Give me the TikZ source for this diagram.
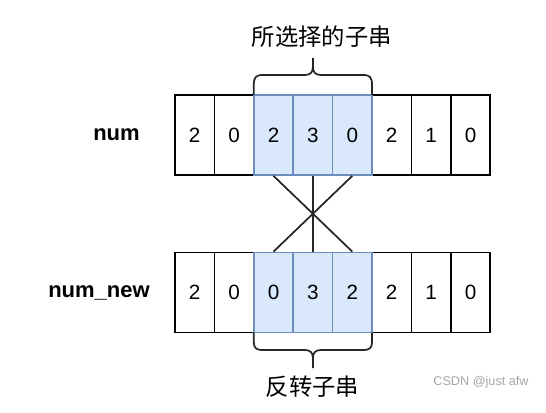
\documentclass[tikz,border=0pt]{standalone}
\usepackage{fontspec}
\setmainfont{Liberation Sans}
\newfontfamily\cjkfont{Noto Sans CJK SC}
\usepackage{tikz}
\usetikzlibrary{positioning}
\definecolor{softblue}{HTML}{DAE8FC}
\definecolor{edgeblue}{HTML}{6C8EBF}
\definecolor{markgrey}{RGB}{165,165,165}
\tikzset{
    cell/.style={
        draw,
        line width=1.3pt,
        minimum width=29.55pt,
        minimum height=60pt,
        inner sep=0pt,
        font=\fontsize{15.5}{18}\selectfont
    },
    pickcell/.style={
        cell,
        draw=edgeblue,
        fill=softblue
    },
    rowlabel/.style={
        anchor=east,
        inner sep=0pt,
        font=\fontsize{16.5}{20}\selectfont\bfseries
    },
    note/.style={
        inner sep=0pt,
        font=\cjkfont\fontsize{17.5}{20}\selectfont
    },
    cross/.style={line width=1.3pt, draw=black!85},
    curly/.style={line width=1.3pt, draw=black!85}
}

\begin{document}
\begin{tikzpicture}[x=0.75pt,y=-0.75pt]
\useasboundingbox (0,0) rectangle (546,413);

% Row labels
\node[rowlabel] (numlabel) at (140,135) {num};
\node[rowlabel] (newlabel) at (150,293) {num\_new};

% ------------------------------------------------------------
% Original array
% ------------------------------------------------------------

\node[cell] (t1) at (194.7,135) {2};
\node[cell] (t2) at (234.1,135) {0};
\node[cell] (t6) at (391.7,135) {2};
\node[cell] (t7) at (431.1,135) {1};
\node[cell] (t8) at (470.5,135) {0};

\node[pickcell] (t3) at (273.5,135) {2};
\node[pickcell] (t4) at (312.9,135) {3};
\node[pickcell] (t5) at (352.3,135) {0};

% ------------------------------------------------------------
% New array
% ------------------------------------------------------------

\node[cell] (b1) at (194.7,292.5) {2};
\node[cell] (b2) at (234.1,292.5) {0};
\node[cell] (b6) at (391.7,292.5) {2};
\node[cell] (b7) at (431.1,292.5) {1};
\node[cell] (b8) at (470.5,292.5) {0};

\node[pickcell] (b3) at (273.5,292.5) {0};
\node[pickcell] (b4) at (312.9,292.5) {3};
\node[pickcell] (b5) at (352.3,292.5) {2};

% Crossing lines
\draw[cross] (t3.south) -- (b5.north);
\draw[cross] (t5.south) -- (b3.north);
\draw[cross] (t4.south) -- (b4.north);

% Braces
\draw[curly] (253.8,95) -- (253.8,85) .. controls (253.8,77) and (256,75) .. (263,75)
    -- (305,75) .. controls (310.5,75) and (312.9,72) .. (312.9,67) -- (312.9,58);
\draw[curly] (312.9,67) .. controls (312.9,72) and (315.3,75) .. (320.8,75)
    -- (362.8,75) .. controls (369.8,75) and (372,77) .. (372,85) -- (372,95);

\draw[curly] (253.8,332.5) -- (253.8,342) .. controls (253.8,348) and (256,350) .. (263,350)
    -- (305,350) .. controls (310.5,350) and (312.9,353) .. (312.9,358) -- (312.9,368);
\draw[curly] (312.9,358) .. controls (312.9,353) and (315.3,350) .. (320.8,350)
    -- (362.8,350) .. controls (369.8,350) and (372,348) .. (372,342) -- (372,332.5);

% Brace labels
\node[note] (picked) at (321.7,37) {所选择的子串};
\node[note] (reversed) at (312.5,387) {反转子串};

\node[text=markgrey, inner sep=0pt, font=\fontsize{9.5}{11}\selectfont] (mark) at (481,382) {CSDN @just afw};

\end{tikzpicture}
\end{document}
